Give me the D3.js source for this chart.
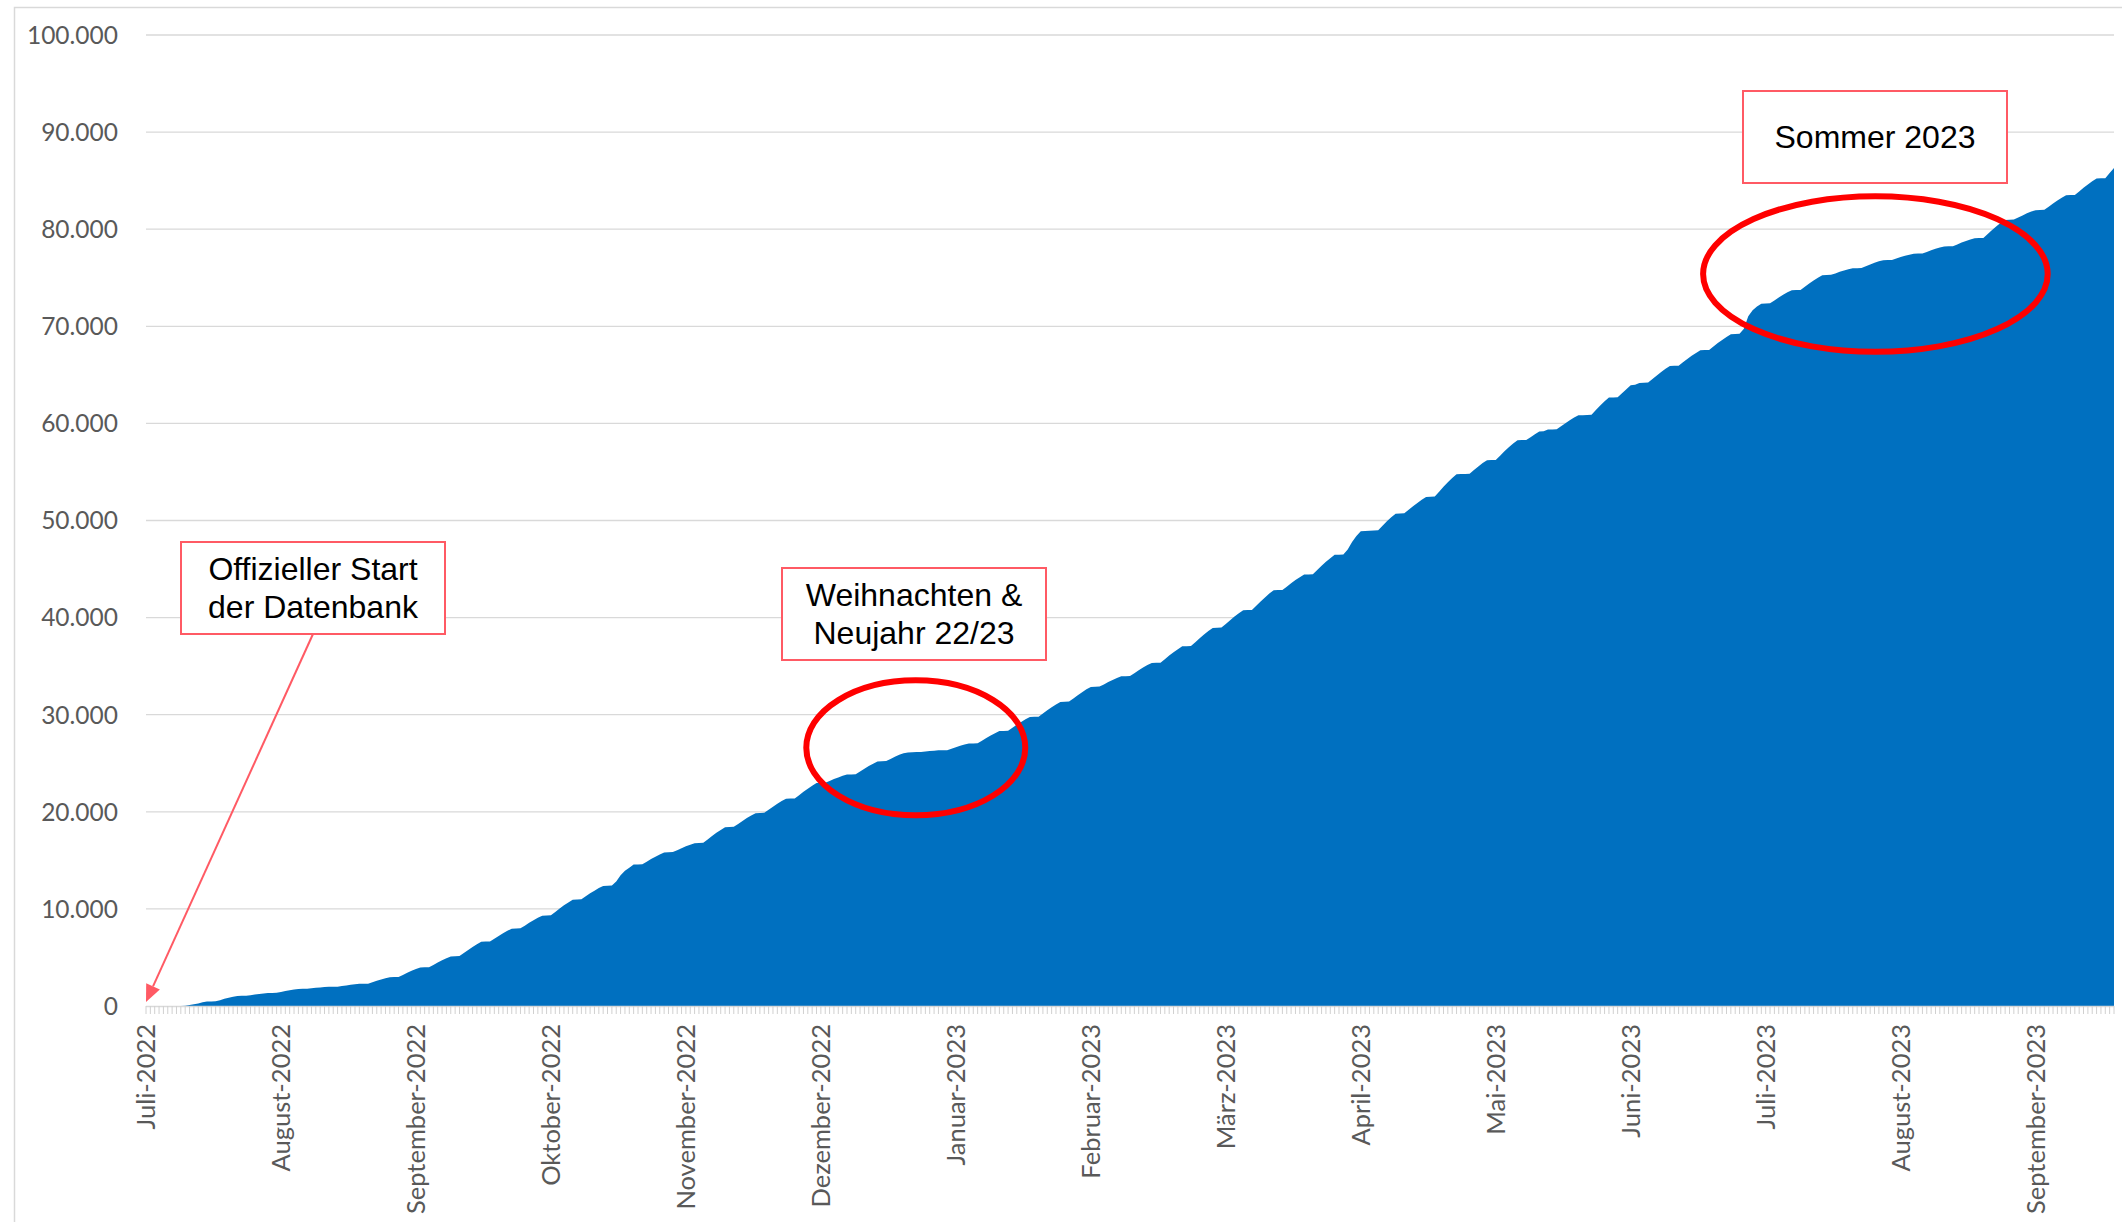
<!DOCTYPE html>
<html>
<head>
<meta charset="utf-8">
<script src="https://cdn.jsdelivr.net/npm/d3@7"></script>
<style>
  body { margin: 0; background: #fff; }
</style>
</head>
<body>
<div id="chart"></div>
<script>
// Neue Einträge pro Tag ab Fr 01.07.2022 (eine Zeile = eine Woche Mo-So)
const neueEintraege = [
  0, 0, 0,
  0, 0, 0, 0, 0, 10, 20,
  70, 90, 80, 110, 80, 10, 10,
  120, 140, 110, 100, 90, 10, 10,
  60, 70, 50, 60, 40, 10, 10,
  80, 100, 90, 70, 60, 10, 10,
  40, 50, 40, 40, 30, 5, 5,
  70, 60, 60, 50, 50, 10, 10,
  140, 150, 140, 120, 110, 20, 10,
  210, 220, 200, 180, 160, 20, 10,
  240, 250, 230, 210, 190, 20, 20,
  310, 320, 300, 280, 250, 20, 20,
  280, 290, 270, 250, 220, 20, 20,
  270, 300, 270, 250, 210, 20, 20,
  340, 360, 330, 300, 280, 20, 20,
  300, 310, 280, 260, 220, 20, 20,
  420, 650, 460, 320, 310, 20, 20,
  260, 270, 250, 230, 200, 20, 20,
  190, 210, 190, 170, 150, 20, 20,
  340, 360, 330, 300, 280, 20, 20,
  300, 310, 290, 270, 240, 20, 20,
  300, 320, 300, 280, 240, 20, 20,
  330, 350, 320, 310, 270, 20, 20,
  180, 190, 170, 160, 130, 20, 20,
  280, 290, 270, 250, 220, 20, 20,
  220, 230, 200, 150, 90, 20, 20,
  10, 40, 50, 50, 30, 10, 10,
  150, 160, 150, 130, 90, 10, 10,
  270, 280, 260, 240, 210, 20, 20,
  300, 310, 290, 270, 240, 20, 20,
  320, 330, 310, 290, 260, 20, 20,
  320, 340, 310, 290, 250, 20, 20,
  220, 240, 220, 200, 170, 20, 20,
  280, 300, 280, 260, 210, 20, 20,
  360, 370, 340, 320, 290, 20, 20,
  390, 410, 380, 350, 320, 20, 20,
  380, 390, 370, 340, 300, 20, 20,
  430, 440, 420, 390, 340, 20, 20,
  340, 350, 320, 300, 270, 20, 20,
  420, 440, 410, 380, 340, 20, 20,
  520, 760, 620, 500, 20, 20, 20,
  30, 460, 460, 430, 360, 20, 20,
  360, 370, 340, 320, 290, 20, 20,
  490, 520, 470, 440, 380, 20, 20,
  20, 380, 370, 350, 280, 20, 20,
  430, 450, 420, 390, 330, 20, 20,
  280, 300, 290, 20, 170, 20, 20,
  300, 320, 300, 280, 230, 20, 20,
  30, 480, 470, 440, 370, 20, 20,
  400, 420, 410, 60, 170, 20, 20,
  360, 380, 350, 330, 290, 20, 20,
  340, 350, 320, 300, 270, 20, 20,
  340, 360, 330, 310, 270, 20, 20,
  520, 1300, 620, 380, 290, 20, 20,
  290, 300, 280, 260, 210, 20, 20,
  320, 340, 310, 290, 250, 20, 20,
  150, 160, 140, 130, 90, 15, 15,
  180, 190, 170, 150, 120, 15, 15,
  140, 150, 130, 120, 90, 15, 15,
  160, 170, 150, 140, 100, 15, 15,
  180, 190, 170, 160, 120, 15, 15,
  400, 410, 390, 360, 300, 20, 20,
  200, 220, 210, 190, 140, 20, 20,
  320, 330, 310, 290, 240, 20, 20,
  360, 370, 350, 330, 280, 20, 20,
  540, 500
];

const monatsLabels = [
  "Juli-2022", "August-2022", "September-2022", "Oktober-2022", "November-2022",
  "Dezember-2022", "Januar-2023", "Februar-2023", "März-2023", "April-2023",
  "Mai-2023", "Juni-2023", "Juli-2023", "August-2023", "September-2023"
];
const labelIntervall = 31; // Beschriftung jede 31. Kategorie

const yTicks = [0, 10000, 20000, 30000, 40000, 50000, 60000, 70000, 80000, 90000, 100000];

// Hinweiskästen und Markierungen
const kaesten = [
  {zeilen: ["Offizieller Start", "der Datenbank"], x: 181, y: 542},
  {zeilen: ["Weihnachten &", "Neujahr 22/23"], x: 782, y: 568},
  {zeilen: ["Sommer 2023"], x: 1743, y: 91}
];
const kreise = [
  {tag: 176.8, wert: 26590, rx: 109.5, ry: 67.5},
  {tag: 397.2, wert: 75380, rx: 172.3, ry: 77.8}
];
const pfeil = {vonKasten: 0, tag: 0, wert: 420};

const width = 2122, height = 1222;
const kastenB = 264, kastenH = 92, zeilenAbstand = 38.3;
const kastenFarbe = "#ff5a64";

const kumuliert = d3.cumsum(neueEintraege);
const tage = d3.range(kumuliert.length);

const x = d3.scaleLinear().domain([0, tage.length - 1]).range([146, 2114]);
const y = d3.scaleLinear().domain([0, 100000]).range([1006, 35]);

const de = d3.formatLocale({decimal: ",", thousands: ".", grouping: [3], currency: ["", " €"]});
const fmt = de.format(",");

const svg = d3.select("#chart").append("svg")
    .attr("width", width)
    .attr("height", height)
    .attr("viewBox", [0, 0, width, height])
    .style("font-family", "Lato, 'Open Sans', sans-serif");

// Diagrammrahmen
svg.append("rect")
    .attr("x", 14.5).attr("y", 7.5)
    .attr("width", 2200).attr("height", 1300)
    .attr("fill", "none")
    .attr("stroke", "#d9d9d9")
    .attr("stroke-width", 1.5);

// Gitternetz
svg.append("g")
  .selectAll("line")
  .data(yTicks.filter(d => d > 0))
  .join("line")
    .attr("x1", x(0)).attr("x2", x(tage.length - 1))
    .attr("y1", y).attr("y2", y)
    .attr("stroke", "#d9d9d9")
    .attr("stroke-width", 1.3);

// Y-Beschriftung
svg.append("g")
    .attr("text-anchor", "end")
    .attr("fill", "#595959")
    .attr("font-size", 24.5)
  .selectAll("text")
  .data(yTicks)
  .join("text")
    .attr("x", 118)
    .attr("y", y)
    .attr("dy", "0.36em")
    .text(fmt);

// Fläche
const area = d3.area()
    .x((d, i) => x(i))
    .y0(y(0))
    .y1(d => y(d));

svg.append("path")
    .datum(kumuliert)
    .attr("fill", "#0070c0")
    .attr("d", area);

// Achse mit Teilstrichen je Kategorie
svg.append("line")
    .attr("x1", x(0)).attr("x2", x(tage.length - 1))
    .attr("y1", y(0) + 0.5).attr("y2", y(0) + 0.5)
    .attr("stroke", "#d9d9d9")
    .attr("stroke-width", 1.5);

svg.append("g")
  .selectAll("line")
  .data(tage)
  .join("line")
    .attr("x1", x).attr("x2", x)
    .attr("y1", y(0)).attr("y2", y(0) + 8)
    .attr("stroke", "#d0d0d0")
    .attr("stroke-width", 1);

// X-Beschriftung
svg.append("g")
    .attr("fill", "#595959")
    .attr("font-size", 25.5)
    .attr("text-anchor", "end")
  .selectAll("text")
  .data(monatsLabels)
  .join("text")
    .attr("transform", (d, k) => `translate(${x(k * labelIntervall)},1024) rotate(-90)`)
    .attr("dy", "0.36em")
    .text(d => d);

// Ellipsen
svg.append("g")
  .selectAll("ellipse")
  .data(kreise)
  .join("ellipse")
    .attr("cx", d => x(d.tag))
    .attr("cy", d => y(d.wert))
    .attr("rx", d => d.rx)
    .attr("ry", d => d.ry)
    .attr("fill", "none")
    .attr("stroke", "#ff0000")
    .attr("stroke-width", 6);

// Pfeil zum Startpunkt
{
  const k = kaesten[pfeil.vonKasten];
  const x0 = k.x + kastenB / 2, y0 = k.y + kastenH;
  const x1 = x(pfeil.tag), y1 = y(pfeil.wert);
  const len = Math.hypot(x1 - x0, y1 - y0);
  const ux = (x1 - x0) / len, uy = (y1 - y0) / len;
  const head = 17, half = 7.5;
  const bx = x1 - ux * head, by = y1 - uy * head;
  svg.append("line")
      .attr("x1", x0).attr("y1", y0)
      .attr("x2", bx).attr("y2", by)
      .attr("stroke", kastenFarbe)
      .attr("stroke-width", 2);
  svg.append("path")
      .attr("d", `M${x1},${y1}L${bx - uy * half},${by + ux * half}L${bx + uy * half},${by - ux * half}Z`)
      .attr("fill", kastenFarbe);
}

// Hinweiskästen
const kasten = svg.append("g")
  .selectAll("g")
  .data(kaesten)
  .join("g")
    .attr("transform", d => `translate(${d.x},${d.y})`);

kasten.append("rect")
    .attr("width", kastenB)
    .attr("height", kastenH)
    .attr("fill", "#fff")
    .attr("stroke", kastenFarbe)
    .attr("stroke-width", 2);

kasten.append("g")
    .attr("font-family", "'Liberation Sans', Arial, sans-serif")
    .attr("font-size", 32)
    .attr("fill", "#000")
    .attr("text-anchor", "middle")
  .selectAll("text")
  .data(d => d.zeilen.map((t, i) => ({t, i, n: d.zeilen.length})))
  .join("text")
    .attr("x", kastenB / 2)
    .attr("y", d => kastenH / 2 + (d.i - (d.n - 1) / 2) * zeilenAbstand + 11)
    .text(d => d.t);
</script>
</body>
</html>
